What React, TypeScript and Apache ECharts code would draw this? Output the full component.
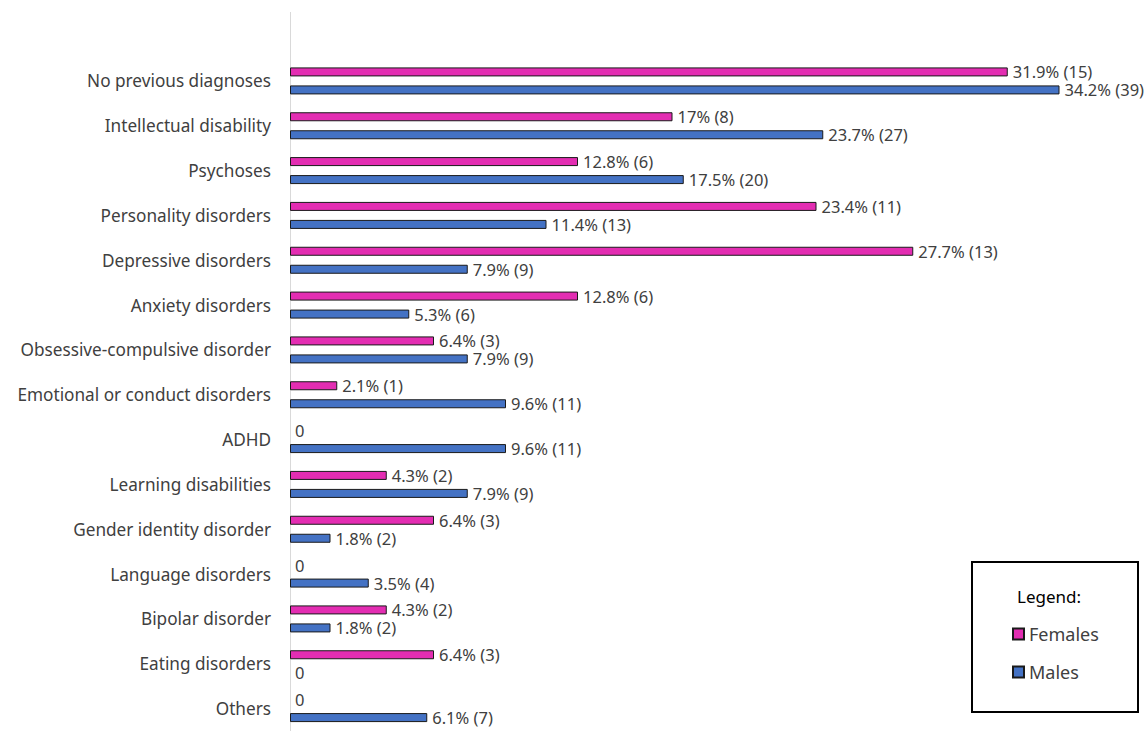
import React, { useEffect, useRef } from "react";
import * as echarts from "echarts";

const categories = [
  "No previous diagnoses",
  "Intellectual disability",
  "Psychoses",
  "Personality disorders",
  "Depressive disorders",
  "Anxiety disorders",
  "Obsessive-compulsive disorder",
  "Emotional or conduct disorders",
  "ADHD",
  "Learning disabilities",
  "Gender identity disorder",
  "Language disorders",
  "Bipolar disorder",
  "Eating disorders",
  "Others",
];

const femalePct = [31.9, 17, 12.8, 23.4, 27.7, 12.8, 6.4, 2.1, 0, 4.3, 6.4, 0, 4.3, 6.4, 0];
const femaleN = [15, 8, 6, 11, 13, 6, 3, 1, 0, 2, 3, 0, 2, 3, 0];
const malePct = [34.2, 23.7, 17.5, 11.4, 7.9, 5.3, 7.9, 9.6, 9.6, 7.9, 1.8, 3.5, 1.8, 0, 6.1];
const maleN = [39, 27, 20, 13, 9, 6, 9, 11, 11, 9, 2, 4, 2, 0, 7];

const FEMALE_COLOR = "#E32DB2";
const MALE_COLOR = "#4472C4";
const FONT = "Noto Sans";

function fmt(pct: number[], n: number[]) {
  return (p: any) => {
    const i = p.dataIndex;
    if (pct[i] === 0) return "0";
    return `${pct[i]}% (${n[i]})`;
  };
}

function toData(pct: number[]) {
  return pct.map((v) =>
    v === 0 ? { value: v, itemStyle: { borderWidth: 0, opacity: 0 } } : { value: v }
  );
}

export default function App() {
  const ref = useRef<HTMLDivElement>(null);
  useEffect(() => {
    if (!ref.current) return;
    const chart = echarts.init(ref.current, undefined, { renderer: "svg" });
    const labelCommon = {
      show: true,
      position: "right" as const,
      distance: 5,
      color: "#404040",
      fontFamily: FONT,
      fontSize: 16.5,
      opacity: 1,
    };
    chart.setOption({
      animation: false,
      backgroundColor: "#ffffff",
      textStyle: { fontFamily: FONT },
      grid: { left: 290, top: 58.5, width: 810, height: 676.5, containLabel: false },
      xAxis: {
        type: "value",
        min: 0,
        max: 36,
        show: false,
      },
      yAxis: {
        type: "category",
        data: categories,
        inverse: true,
        axisLine: { show: false },
        axisTick: { show: false },
        axisLabel: {
          margin: 19,
          color: "#404040",
          fontFamily: FONT,
          fontSize: 17.2,
        },
      },
      legend: {
        orient: "vertical",
        left: 1012,
        top: 625,
        padding: 0,
        itemWidth: 11,
        itemHeight: 11,
        itemGap: 20,
        icon: "rect",
        textStyle: { color: "#404040", fontFamily: FONT, fontSize: 18, lineHeight: 18 },
        data: ["Females", "Males"],
      },
      graphic: [
        {
          type: "line",
          shape: { x1: 290.5, y1: 12, x2: 290.5, y2: 731 },
          style: { stroke: "#d9d9d9", lineWidth: 1 },
          silent: true,
        },
        {
          type: "rect",
          shape: { x: 972, y: 562, width: 166, height: 150 },
          style: { fill: "none", stroke: "#000000", lineWidth: 2 },
          silent: true,
        },
        {
          type: "text",
          x: 1049,
          y: 596,
          style: {
            text: "Legend:",
            fill: "#000000",
            font: `17px "${FONT}"`,
            textAlign: "center",
            textVerticalAlign: "middle",
          },
          silent: true,
        },
      ],
      series: [
        {
          name: "Females",
          type: "bar",
          data: toData(femalePct),
          barWidth: 9,
          barGap: "100%",
          itemStyle: { color: FEMALE_COLOR, borderColor: "#1a1a1a", borderWidth: 1 },
          label: { ...labelCommon, formatter: fmt(femalePct, femaleN) },
        },
        {
          name: "Males",
          type: "bar",
          data: toData(malePct),
          barWidth: 9,
          barGap: "100%",
          itemStyle: { color: MALE_COLOR, borderColor: "#1a1a1a", borderWidth: 1 },
          label: { ...labelCommon, formatter: fmt(malePct, maleN) },
        },
      ],
    });
    return () => chart.dispose();
  }, []);
  return (
    <div
      ref={ref}
      style={{ position: "fixed", left: 0, top: 0, width: 1148, height: 731, background: "#fff" }}
    />
  );
}
